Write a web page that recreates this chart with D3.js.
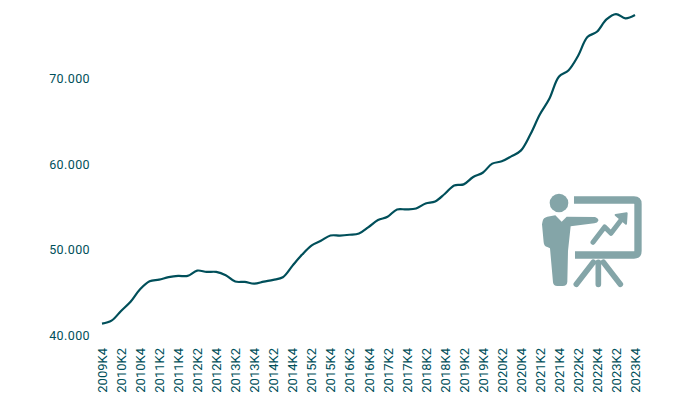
<!DOCTYPE html>
<html><head><meta charset="utf-8">
<script src="https://cdn.jsdelivr.net/npm/d3@7"></script>
<style>html,body{margin:0;padding:0;background:#fff}svg{display:block}</style>
</head><body><svg id="c" width="700" height="393"></svg>
<script>
const quarters = ["2009K4","2010K1","2010K2","2010K3","2010K4","2011K1","2011K2","2011K3","2011K4","2012K1","2012K2","2012K3","2012K4","2013K1","2013K2","2013K3","2013K4","2014K1","2014K2","2014K3","2014K4","2015K1","2015K2","2015K3","2015K4","2016K1","2016K2","2016K3","2016K4","2017K1","2017K2","2017K3","2017K4","2018K1","2018K2","2018K3","2018K4","2019K1","2019K2","2019K3","2019K4","2020K1","2020K2","2020K3","2020K4","2021K1","2021K2","2021K3","2021K4","2022K1","2022K2","2022K3","2022K4","2023K1","2023K2","2023K3","2023K4"];
const values = [41360,41710,42850,43930,45390,46320,46510,46790,46940,46940,47560,47410,47410,47030,46280,46240,46040,46280,46480,46790,48110,49400,50490,51040,51660,51660,51750,51900,52650,53470,53850,54710,54710,54820,55410,55640,56510,57520,57640,58500,59000,60060,60330,60910,61580,63460,65800,67640,70210,70950,72620,74850,75480,76920,77540,77040,77430];
const yTicks = [40000,50000,60000,70000];
const xTicks = quarters.filter((d,i)=>i%2===0);
const ink = "#004f5a", iconCol = "#84a5a8";
const svg = d3.select("#c");
const x = d3.scalePoint().domain(quarters).range([102,635]);
const y = d3.scaleLinear().domain([40000,70000]).range([335.3,78.6]);
const fmt = d => d3.format(",")(d).replace(/,/g,".");
const font = "Roboto, sans-serif";

const gy = svg.append("g").attr("transform","translate(90,0)")
  .call(d3.axisLeft(y).tickValues(yTicks).tickSize(0).tickPadding(0).tickFormat(fmt));
gy.select(".domain").remove();
gy.selectAll("text").attr("fill",ink).style("font-family",font).style("font-size","12.5px").style("letter-spacing","0.4px");

const gx = svg.append("g").attr("transform","translate(0,348)")
  .call(d3.axisBottom(x).tickValues(xTicks).tickSize(0).tickPadding(0));
gx.select(".domain").remove();
gx.selectAll("text").attr("fill",ink).style("font-family",font).style("font-size","13px")
  .attr("text-anchor","end").attr("dy",null).attr("y",null)
  .attr("transform","rotate(-90) translate(0,4.5)").attr("x",null);

svg.append("path").datum(values)
  .attr("fill","none").attr("stroke",ink).attr("stroke-width",2.2).attr("stroke-linejoin","round")
  .attr("d",d3.line().x((d,i)=>x(quarters[i])).y(d=>y(d)).curve(d3.curveCatmullRom.alpha(0.5)));

// presentation icon (drawn in 3x zoom units)
const icon = svg.append("g").attr("transform","translate(530,185) scale(0.3333)");
icon.append("circle").attr("cx",87).attr("cy",54).attr("r",28).attr("fill",iconCol);
icon.append("path").attr("fill",iconCol).attr("d","M38 108 Q40 98 52 95 L76 91 L95 110 L110 95 L195 96 Q206 100 205 107 Q203 114 193 115 L122 124 L114 198 L112 290 Q111 303 98 303 L82 303 Q70 303 69 292 L60 190 L52 186 Q42 184 41 172 L36 118 Z");
icon.append("path").attr("fill","none").attr("stroke",iconCol).attr("stroke-width",22).attr("stroke-linejoin","round")
  .attr("d","M132 45 L312 45 Q324 45 324 57 L324 198 Q324 210 312 210 L135 210");
icon.append("path").attr("fill","none").attr("stroke",iconCol).attr("stroke-width",17).attr("stroke-linecap","round")
  .attr("d","M205 232 L205 298 M190 232 L139 298 M220 232 L271 298");
icon.append("path").attr("fill","none").attr("stroke",iconCol).attr("stroke-width",15).attr("stroke-linecap","round").attr("stroke-linejoin","round")
  .attr("d","M189 172 L224 126 L243 145 L274 104");
icon.append("path").attr("fill",iconCol).attr("stroke",iconCol).attr("stroke-width",6).attr("stroke-linejoin","round").attr("d","M257 90 L290 85 L288 116 Z");
</script></body></html>
